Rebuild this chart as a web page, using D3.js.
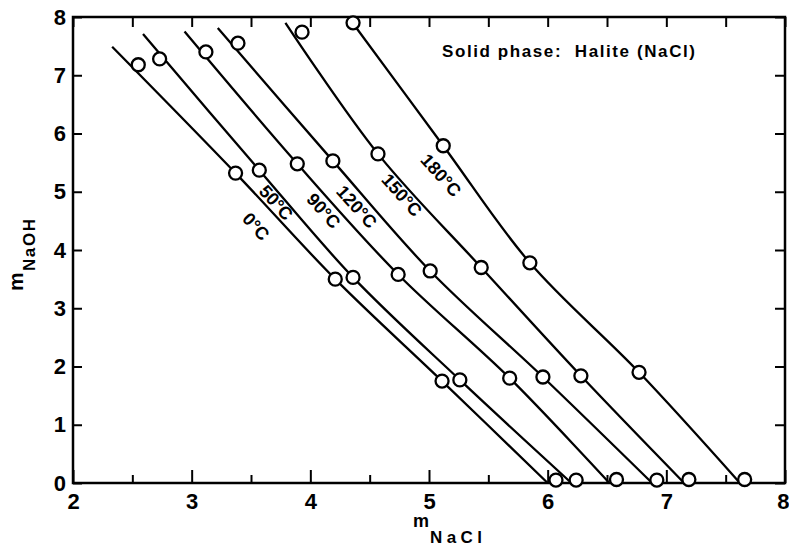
<!DOCTYPE html>
<html>
<head>
<meta charset="utf-8">
<script src="https://cdn.jsdelivr.net/npm/d3@7"></script>
<style>
  body { margin: 0; background: #fff; }
  text { font-family: "Liberation Sans", Arial, sans-serif; font-weight: bold; fill: #000; }
</style>
</head>
<body>
<svg id="chart" width="789" height="547"></svg>
<script>
// temperatures (one curve each)
const temps = ["0°C", "50°C", "90°C", "120°C", "150°C", "180°C"];

// measured points, m NaCl / m NaOH
const pointsX = [
    [2.55, 3.37, 4.21, 5.11, 6.07],
    [2.73, 3.57, 4.36, 5.26, 6.24],
    [3.12, 3.89, 4.74, 5.68, 6.58],
    [3.39, 4.19, 5.01, 5.96, 6.92],
    [3.93, 4.57, 5.44, 6.28, 7.19],
    [4.36, 5.12, 5.85, 6.77, 7.66]
];
const pointsY = [
    [7.18, 5.32, 3.50, 1.75, 0.05],
    [7.28, 5.37, 3.53, 1.77, 0.05],
    [7.40, 5.48, 3.58, 1.80, 0.06],
    [7.55, 5.53, 3.64, 1.82, 0.05],
    [7.74, 5.65, 3.70, 1.84, 0.06],
    [7.90, 5.79, 3.78, 1.90, 0.06]
];

// fitted curves (drawn lines)
const curveX = [
    [2.33, 3.37, 4.21, 5.11, 6.00],
    [2.59, 3.57, 4.36, 5.26, 6.20],
    [2.94, 3.89, 4.74, 5.68, 6.52],
    [3.22, 4.19, 5.01, 5.96, 6.88],
    [3.79, 4.57, 5.44, 6.28, 7.15],
    [4.32, 5.12, 5.85, 6.77, 7.62]
];
const curveY = [
    [7.49, 5.32, 3.50, 1.75, 0],
    [7.71, 5.37, 3.53, 1.77, 0],
    [7.75, 5.48, 3.58, 1.80, 0],
    [7.81, 5.53, 3.64, 1.82, 0],
    [7.90, 5.65, 3.70, 1.84, 0],
    [8.00, 5.79, 3.78, 1.90, 0]
];

// where each temperature label sits
const labelX = [3.54, 3.71, 4.11, 4.39, 4.77, 5.10];
const labelY = [4.40, 4.81, 4.67, 4.74, 4.94, 5.28];

const xTicks = [2, 3, 4, 5, 6, 7, 8];
const xMinor = [2.5, 3.5, 4.5, 5.5, 6.5, 7.5];
const yTicks = [0, 1, 2, 3, 4, 5, 6, 7, 8];

const svg = d3.select("#chart");
const x = d3.scaleLinear().domain([2, 8]).range([73, 785]);
const y = d3.scaleLinear().domain([0, 8]).range([483, 17]);

function styleAxis(g){
    g.select(".domain").remove();
    g.selectAll(".tick line").attr("stroke", "#000").attr("stroke-width", 2);
    g.selectAll(".tick text").attr("font-size", 22).attr("fill", "#000")
        .attr("font-family", "Liberation Sans, Arial, sans-serif").attr("font-weight", "bold");
}

svg.append("g").attr("transform", `translate(${x.range()[0]},0)`)
    .call(d3.axisLeft(y).tickValues(yTicks).tickSize(-9).tickPadding(7))
    .call(styleAxis);

const xAxis = svg.append("g").attr("transform", `translate(0,${y.range()[0]})`)
    .call(d3.axisBottom(x).tickValues(xTicks).tickSize(-13).tickPadding(10).tickFormat(d3.format("d")))
    .call(styleAxis);
// last label sits on the right edge, keep it inside the page
xAxis.selectAll(".tick text").filter(d => d === 8).attr("text-anchor", "end").attr("x", 4);

svg.append("g").attr("transform", `translate(0,${y.range()[0]})`)
    .call(d3.axisBottom(x).tickValues(xMinor).tickSize(-8).tickFormat(""))
    .call(styleAxis);

svg.append("g").attr("transform", `translate(0,${y.range()[1]})`)
    .call(d3.axisTop(x).tickValues(xTicks.concat(xMinor)).tickSize(-10).tickFormat(""))
    .call(styleAxis);

svg.append("g").attr("transform", `translate(${x.range()[1]},0)`)
    .call(d3.axisRight(y).tickValues(yTicks).tickSize(-10).tickFormat(""))
    .call(styleAxis);

// frame
svg.append("rect")
    .attr("x", x.range()[0]).attr("y", y.range()[1])
    .attr("width", x.range()[1] - x.range()[0])
    .attr("height", y.range()[0] - y.range()[1])
    .attr("fill", "none").attr("stroke", "#000").attr("stroke-width", 2.5);

const line = d3.line().x(d => x(d[0])).y(d => y(d[1])).curve(d3.curveCatmullRom);

temps.forEach((t, i) => {
    const pts = curveX[i].map((v, j) => [v, curveY[i][j]]);
    svg.append("path").datum(pts)
        .attr("d", line)
        .attr("fill", "none").attr("stroke", "#000").attr("stroke-width", 2.3);
});

temps.forEach((t, i) => {
    const pts = pointsX[i].map((v, j) => [v, pointsY[i][j]]);
    svg.selectAll(null).data(pts).enter().append("circle")
        .attr("cx", d => x(d[0])).attr("cy", d => y(d[1]))
        .attr("r", 6.5)
        .attr("fill", "#fff").attr("stroke", "#000").attr("stroke-width", 2.3);

    svg.append("text")
        .attr("transform", `translate(${x(labelX[i])},${y(labelY[i])}) rotate(48)`)
        .attr("text-anchor", "middle").attr("dominant-baseline", "central")
        .attr("font-size", 18)
        .text(t);
});

// note
svg.append("text")
    .attr("x", 442).attr("y", 57)
    .attr("font-size", 17)
    .attr("textLength", 253).attr("lengthAdjust", "spacing")
    .style("white-space", "pre")
    .text("Solid phase:  Halite (NaCl)");

// axis titles
svg.append("text").attr("x", 413).attr("y", 527).attr("font-size", 18).text("m");
svg.append("text").attr("x", 430).attr("y", 543).attr("font-size", 17)
    .attr("textLength", 52).attr("lengthAdjust", "spacing").text("NaCl");

svg.append("text").attr("transform", "translate(23,291) rotate(-90)").attr("font-size", 21).text("m");
svg.append("text").attr("transform", "translate(35,271) rotate(-90)").attr("font-size", 17)
    .attr("textLength", 52).attr("lengthAdjust", "spacing").text("NaOH");
</script>
</body>
</html>
